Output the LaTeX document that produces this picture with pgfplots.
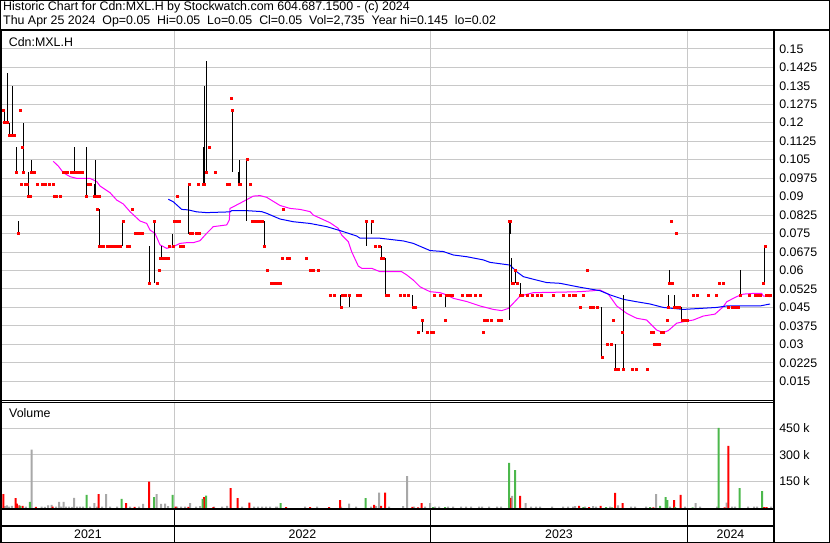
\documentclass[border=0pt]{standalone}
\usepackage{fontspec}
\setmainfont{Liberation Sans}
\usepackage{pgfplots}
\usepackage{pgfplotstable}
\pgfplotsset{compat=1.18}
\definecolor{gridgray}{RGB}{200,200,200}
\definecolor{vgreen}{RGB}{76,184,76}
\definecolor{vgray}{RGB}{168,168,168}
\definecolor{vred}{RGB}{255,0,0}
\definecolor{mama}{RGB}{255,0,255}
\definecolor{mablue}{RGB}{0,0,255}

% x = trading-session position (year boundaries at 174.7, 430.4, 687.7)
\pgfplotstableread{
x lo hi cl
3 0.125 0.125 0.125
4.5 0.12 0.125 0.12
6 0.12 0.12 0.12
7.3 0.12 0.14 0.12
9.3 0.115 0.12 0.115
10.7 0.115 0.115 0.115
12.3 0.115 0.135 0.115
14 0.115 0.115 0.115
16.3 0.10 0.11 0.10
18.7 0.075 0.08 0.075
20 0.125 0.125 0.125
21.2 0.095 0.095 0.095
22.7 0.11 0.11 0.11
23.5 0.10 0.12 0.10
25 0.095 0.095 0.095
27 0.095 0.095 0.095
28.7 0.09 0.10 0.09
30.3 0.09 0.09 0.09
31.5 0.10 0.105 0.10
33 0.10 0.10 0.10
34.5 0.10 0.10 0.10
37 0.095 0.095 0.095
42 0.095 0.095 0.095
45 0.095 0.095 0.095
49 0.095 0.095 0.095
52.7 0.095 0.095 0.095
54 0.09 0.09 0.09
56 0.09 0.09 0.09
60 0.09 0.09 0.09
63.3 0.10 0.10 0.10
65.7 0.10 0.10 0.10
67.3 0.10 0.10 0.10
70.7 0.10 0.10 0.10
74.3 0.10 0.11 0.10
76.7 0.10 0.10 0.10
79.3 0.10 0.10 0.10
81.7 0.10 0.10 0.10
86.3 0.09 0.11 0.09
88 0.095 0.095 0.095
90 0.095 0.095 0.095
94.3 0.09 0.095 0.09
95.7 0.09 0.105 0.09
97 0.085 0.085 0.085
98.7 0.09 0.09 0.09
99.5 0.07 0.085 0.07
101 0.07 0.07 0.07
102.7 0.07 0.07 0.07
107 0.07 0.07 0.07
109.5 0.07 0.07 0.07
111 0.07 0.07 0.07
114.5 0.07 0.07 0.07
116.5 0.07 0.07 0.07
118.5 0.07 0.07 0.07
120.5 0.07 0.07 0.07
122.7 0.07 0.08 0.08
127 0.07 0.07 0.07
129.5 0.07 0.07 0.07
132.3 0.085 0.085 0.085
135.5 0.075 0.075 0.075
137.5 0.075 0.075 0.075
140 0.075 0.075 0.075
142 0.075 0.075 0.075
149 0.055 0.07 0.055
154.3 0.055 0.08 0.08
156.7 0.055 0.055 0.055
158.7 0.06 0.06 0.06
160 0.065 0.065 0.065
161.3 0.065 0.07 0.065
163.3 0.065 0.065 0.065
165 0.065 0.065 0.065
167.7 0.065 0.065 0.065
168.7 0.07 0.07 0.07
172.7 0.07 0.075 0.07
174 0.08 0.08 0.08
175.7 0.08 0.08 0.08
176.7 0.09 0.09 0.09
179 0.08 0.08 0.08
180.3 0.07 0.07 0.07
182.7 0.07 0.07 0.07
188.7 0.075 0.095 0.095
190 0.075 0.075 0.075
191.7 0.075 0.075 0.075
195.7 0.075 0.075 0.075
197.7 0.095 0.095 0.095
199 0.075 0.075 0.075
203.3 0.095 0.11 0.095
204.5 0.095 0.135 0.095
206.3 0.10 0.145 0.10
209 0.11 0.11 0.11
215 0.10 0.10 0.10
227 0.095 0.095 0.095
229.5 0.095 0.095 0.095
230.7 0.13 0.13 0.13
232 0.10 0.125 0.125
238.7 0.095 0.10 0.095
239.7 0.095 0.105 0.095
246.7 0.08 0.105 0.105
250 0.095 0.095 0.095
252 0.08 0.08 0.08
254 0.08 0.08 0.08
256.5 0.08 0.08 0.08
259 0.08 0.08 0.08
262 0.08 0.08 0.08
264.3 0.07 0.08 0.07
266.7 0.06 0.06 0.06
271 0.055 0.055 0.055
274 0.055 0.055 0.055
277 0.055 0.055 0.055
280 0.055 0.055 0.055
281.7 0.065 0.065 0.065
283.3 0.085 0.085 0.085
287 0.065 0.065 0.065
289 0.065 0.065 0.065
306 0.065 0.065 0.065
310 0.06 0.06 0.06
312.7 0.06 0.06 0.06
317.7 0.06 0.06 0.06
330 0.05 0.05 0.05
334 0.05 0.05 0.05
340.7 0.045 0.05 0.045
342.3 0.05 0.05 0.05
345 0.05 0.05 0.05
349.3 0.045 0.05 0.05
357 0.05 0.05 0.05
360 0.05 0.05 0.05
366.3 0.07 0.08 0.08
371.7 0.075 0.08 0.08
375 0.07 0.07 0.07
378.7 0.07 0.07 0.07
381.3 0.065 0.07 0.065
383 0.065 0.065 0.065
385.7 0.05 0.065 0.05
388 0.05 0.05 0.05
400 0.05 0.05 0.05
404 0.05 0.05 0.05
407.7 0.05 0.05 0.05
412.7 0.045 0.05 0.045
415.5 0.045 0.045 0.045
418.3 0.035 0.035 0.035
422.3 0.035 0.04 0.04
426.7 0.035 0.035 0.035
430.7 0.035 0.035 0.035
432.7 0.035 0.035 0.035
434 0.05 0.05 0.05
440 0.05 0.05 0.05
444.7 0.04 0.04 0.04
445.7 0.045 0.05 0.05
447.3 0.05 0.05 0.05
450 0.05 0.05 0.05
451.7 0.05 0.05 0.05
461.7 0.05 0.05 0.05
466.7 0.05 0.05 0.05
470 0.05 0.05 0.05
475 0.05 0.05 0.05
480 0.05 0.05 0.05
482.7 0.035 0.035 0.035
484 0.04 0.04 0.04
486.7 0.04 0.04 0.04
490.7 0.04 0.04 0.04
497.7 0.04 0.04 0.04
501.3 0.04 0.04 0.04
509.3 0.04 0.08 0.08
510.3 0.075 0.08 0.08
511.7 0.055 0.065 0.055
513.5 0.055 0.055 0.055
515.3 0.055 0.06 0.06
517 0.055 0.055 0.055
520 0.05 0.055 0.05
522 0.05 0.05 0.05
526.7 0.05 0.05 0.05
531.7 0.05 0.05 0.05
536.7 0.05 0.05 0.05
541 0.05 0.05 0.05
552.7 0.05 0.05 0.05
563.3 0.05 0.05 0.05
569.3 0.05 0.05 0.05
572.7 0.05 0.05 0.05
575 0.05 0.05 0.05
580 0.045 0.045 0.045
583.3 0.05 0.05 0.05
586.7 0.06 0.06 0.06
590 0.045 0.045 0.045
593.3 0.045 0.045 0.045
596.7 0.045 0.045 0.045
601.7 0.025 0.045 0.025
606.7 0.03 0.03 0.03
610.7 0.03 0.03 0.03
612.7 0.04 0.04 0.04
615 0.02 0.03 0.02
616.5 0.02 0.02 0.02
618.5 0.02 0.02 0.02
622.3 0.035 0.035 0.035
623.3 0.02 0.05 0.02
631.7 0.02 0.02 0.02
636 0.02 0.02 0.02
646.7 0.02 0.02 0.02
651 0.035 0.035 0.035
652.7 0.035 0.035 0.035
654.3 0.03 0.03 0.03
656.3 0.03 0.03 0.03
659 0.03 0.03 0.03
660.7 0.035 0.035 0.035
662.7 0.035 0.035 0.035
666.7 0.04 0.04 0.04
668 0.045 0.05 0.045
669.3 0.055 0.06 0.055
670.7 0.08 0.08 0.08
672 0.055 0.055 0.055
674.3 0.045 0.05 0.045
675.7 0.075 0.075 0.075
677 0.045 0.045 0.045
679.3 0.045 0.045 0.045
681.7 0.04 0.045 0.04
684.7 0.04 0.04 0.04
686.7 0.04 0.04 0.04
693.3 0.05 0.05 0.05
696.7 0.05 0.05 0.05
707.7 0.05 0.05 0.05
716 0.05 0.05 0.05
719.3 0.055 0.055 0.055
722.7 0.055 0.055 0.055
728.3 0.045 0.045 0.045
731.7 0.045 0.045 0.045
735 0.045 0.045 0.045
738.3 0.045 0.045 0.045
740.3 0.05 0.06 0.05
748.7 0.05 0.05 0.05
755 0.05 0.05 0.05
758.3 0.05 0.05 0.05
760 0.05 0.05 0.05
763 0.055 0.055 0.055
764.7 0.055 0.07 0.07
766.5 0.05 0.05 0.05
768.5 0.05 0.05 0.05
770.5 0.05 0.05 0.05
}\prices

\pgfplotstableread{
x v
3.3 79000
15.7 56000
17 25000
19.5 15000
22.7 12000
36 6000
52.7 8000
98.7 79000
126 28000
134.7 6000
149 149000
175.7 8000
188.3 6000
204 62000
213.3 5000
230.7 113000
237.7 56000
249.3 30000
286 5000
310 5000
329 5000
340 45000
374 17000
381 12000
385 87000
412.3 6000
418 3000
421.7 28000
510.3 57000
520 68000
579 12000
589 5000
600.7 12000
615 85000
622.7 28000
653.3 3000
674 45000
680.7 74000
724.7 3000
728.3 351000
764 5000
766.7 5000
}\volred

\pgfplotstableread{
x v
20.3 10000
30 34000
86.7 74000
121.7 51000
154 62000
172.7 74000
202.7 51000
206 70000
280.7 28000
365.7 56000
433 5000
445 5000
509 255000
515 215000
583.3 5000
606 5000
612 3000
650 5000
660 12000
665.7 62000
667.3 45000
675 5000
692.7 3000
718.7 453000
739.7 113000
762 96000
}\volgreen

\pgfplotstableread{
x v
5 10000
7 15000
9 8000
12 12000
26 8000
31.7 330000
41.7 8000
45 6000
48 15000
51.7 18000
56 8000
59 34000
61 8000
63.7 34000
66 8000
69 8000
72 6000
74 57000
77 8000
80 8000
83 8000
90 8000
94.3 28000
97 8000
102 8000
106 79000
110 8000
117 8000
130 8000
139 8000
143 23000
156.7 79000
161 23000
165 25000
168 10000
177 8000
181 8000
185 8000
190 28000
196 8000
200 10000
214 8000
222 8000
227 12000
242 8000
254 8000
258 8000
262 8000
266 8000
270 8000
276 8000
277 8000
305 8000
317 8000
341 8000
349 25000
356 8000
371 8000
376 10000
379 87000
389 8000
403 10000
407 181000
414 8000
425 8000
430 28000
435 8000
439 8000
448 8000
453 8000
461 8000
466 8000
471 8000
479 8000
482 8000
489 8000
497 8000
501 8000
512 68000
525.7 28000
531 8000
536 8000
540 8000
552 8000
563 8000
568 8000
573 8000
575 10000
585 8000
593 10000
596 8000
610 8000
618 15000
631 8000
635 8000
646 8000
656 79000
670 8000
685 8000
695.7 28000
700 8000
717 8000
726.7 30000
732 8000
735 8000
748 8000
754 8000
757 8000
771 8000
}\volgray

\begin{document}
\fontsize{12.4}{14}\selectfont
\begin{tikzpicture}[x=1pt,y=1pt]
\useasboundingbox (0pt,0pt) rectangle (830pt,543pt);

% ---------- price panel ----------
\begin{axis}[
  at={(2pt,142pt)}, anchor=south west,
  width=771pt, height=370pt, scale only axis,
  xmin=2, xmax=773, ymin=0.00702, ymax=0.15723,
  axis line style={draw=none},
  major tick length=0pt,
  xtick={174.7,430.4,687.7}, xticklabels={,,},
  ytick={0.015,0.0225,0.03,0.0375,0.045,0.0525,0.06,0.0675,0.075,0.0825,0.09,0.0975,0.105,0.1125,0.12,0.1275,0.135,0.1425,0.15},
  yticklabels={0.015,0.0225,0.03,0.0375,0.045,0.0525,0.06,0.0675,0.075,0.0825,0.09,0.0975,0.105,0.1125,0.12,0.1275,0.135,0.1425,0.15},
  yticklabel pos=right,
  yticklabel style={anchor=west, xshift=2pt, font=\fontsize{12.4}{14}\selectfont},
  xmajorgrids, ymajorgrids,
  grid style={gridgray, line width=1pt},
]
\addplot[mama, line width=1pt] coordinates {
(53.3,0.1043) (58.3,0.1024) (63.3,0.0997) (70,0.0981) (76.7,0.0974) (90,0.0974) (96.7,0.0961) (100,0.0943) (110,0.0916) (116.7,0.0886) (123.3,0.0870) (130,0.0839) (140,0.0801) (146.7,0.0791) (150,0.0764) (155,0.0751) (160,0.0704) (166.7,0.0690) (173.3,0.0697) (180,0.0710) (186.7,0.0713) (193.3,0.0713) (200,0.0721) (206.7,0.0751) (213.3,0.0778) (226.7,0.0785) (229.3,0.0805) (230,0.0852) (240,0.0873) (253.3,0.0902) (260,0.0904) (266.7,0.0897) (280,0.0864) (290,0.0852) (300,0.0848) (310,0.0839) (313.3,0.0825) (330,0.0794) (338.3,0.0771) (341.7,0.0744) (348.3,0.0717) (351.7,0.0676) (358.3,0.0618) (361.7,0.0609) (371.7,0.0609) (380,0.0595) (401.7,0.0595) (406.7,0.0582) (413.3,0.0561) (420,0.0534) (430,0.0514) (440,0.0510) (446.7,0.0501) (453.3,0.0487) (466.7,0.0474) (480,0.0456) (493.3,0.0442) (501.7,0.0437) (508.3,0.0446) (513.3,0.0467) (520,0.0496) (533.3,0.0510) (560,0.0512) (580,0.0514) (593.3,0.0518) (600,0.0521) (608.3,0.0504) (616.7,0.0456) (626.7,0.0426) (636.7,0.0406) (646.7,0.0399) (656.7,0.0358) (663.3,0.0348) (668.3,0.0356) (676.7,0.0386) (683.3,0.0392) (693.3,0.0399) (703.3,0.0415) (715,0.0423) (723.3,0.0453) (726.7,0.0473) (736.7,0.0494) (743.3,0.0504) (753.3,0.0507) (761.7,0.0507) (763.3,0.0496) (770,0.0494)};
\addplot[mablue, line width=1pt] coordinates {
(168.3,0.0889) (173.3,0.0879) (181.7,0.0848) (188.3,0.0846) (196.7,0.0838) (206.7,0.0835) (230,0.0838) (231.7,0.0843) (246.7,0.0843) (261.7,0.0839) (266.7,0.0832) (280,0.0809) (293.3,0.0798) (310,0.0791) (326.7,0.0778) (340,0.0762) (356.7,0.0740) (360,0.0731) (380,0.0731) (403.3,0.0720) (413.3,0.0710) (430,0.0681) (443.3,0.0677) (453.3,0.0663) (466.7,0.0656) (483.3,0.0643) (490,0.0633) (510,0.0622) (516.7,0.0595) (523.3,0.0575) (536.7,0.0561) (546.7,0.0551) (560,0.0548) (580,0.0532) (600,0.0518) (610,0.0501) (623.3,0.0483) (636.7,0.0473) (650,0.0464) (663.3,0.0450) (683.3,0.0442) (716.7,0.0450) (726.7,0.0456) (760,0.0456) (770,0.0464)};
\addplot[draw=none, mark=none, error bars/.cd, y dir=both, y explicit, error mark=none,
  error bar style={draw=black, line width=1pt}]
  table[x=x, y expr=(\thisrow{lo}+\thisrow{hi})/2, y error expr=(\thisrow{hi}-\thisrow{lo})/2] {\prices};
\addplot[vred, only marks, mark=square*, mark size=1pt, mark options={draw=none, fill=vred}]
  table[x=x, y=cl] {\prices};
\end{axis}

% ---------- volume panel ----------
\begin{axis}[
  at={(2pt,33.5pt)}, anchor=south west,
  width=771pt, height=107pt, scale only axis,
  xmin=2, xmax=773, ymin=-8490, ymax=597170,
  axis line style={draw=none},
  major tick length=0pt,
  xtick={174.7,430.4,687.7}, xticklabels={,,},
  extra x ticks={88,302.5,559,730.5},
  extra x tick labels={2021,2022,2023,2024},
  extra x tick style={grid=none},
  xticklabel style={anchor=base, yshift=-29.5pt, font=\fontsize{12.4}{14}\selectfont},
  ytick={150000,300000,450000},
  yticklabels={150 k,300 k,450 k},
  yticklabel pos=right,
  yticklabel style={anchor=west, xshift=2pt, font=\fontsize{12.4}{14}\selectfont},
  xmajorgrids, ymajorgrids,
  grid style={gridgray, line width=1pt},
  scaled y ticks=false,
]
\addplot[ybar, bar width=2, bar shift=0pt, fill=vgray, draw=none] table[x=x,y=v] {\volgray};
\addplot[ybar, bar width=2, bar shift=0pt, fill=vred, draw=none] table[x=x,y=v] {\volred};
\addplot[ybar, bar width=2, bar shift=0pt, fill=vgreen, draw=none] table[x=x,y=v] {\volgreen};
\end{axis}

% ---------- frame and labels ----------
\draw[black, line width=1pt] (0.5pt,0.5pt) rectangle (829.5pt,542.5pt);
\draw[black, line width=2pt] (0pt,513pt) -- (830pt,513pt);
\draw[black, line width=2pt] (1pt,0pt) -- (1pt,513pt);
\draw[black, line width=2pt] (774pt,0pt) -- (774pt,513pt);
\draw[black, line width=1pt] (0pt,142.3pt) -- (774pt,142.3pt);
\draw[black, line width=1pt] (0pt,140.7pt) -- (774pt,140.7pt);
\draw[black, line width=2pt] (0pt,33.5pt) -- (774pt,33.5pt);
\draw[black, line width=2pt] (0pt,16.5pt) -- (774pt,16.5pt);
\foreach \xx in {174.7,430.4,687.7} \draw[black, line width=1pt] (\xx pt,0pt) -- (\xx pt,33.5pt);

\node[anchor=base west, inner sep=0pt] at (3pt,532.3pt) {Historic Chart for Cdn:MXL.H by Stockwatch.com 604.687.1500 - (c) 2024};
\node[anchor=base west, inner sep=0pt] at (3pt,518pt) {Thu Apr 25 2024~~Op=0.05~~Hi=0.05~~Lo=0.05~~Cl=0.05~~Vol=2,735~~Year hi=0.145~~lo=0.02};
\node[anchor=base west, inner sep=0pt] at (8.7pt,496.3pt) {Cdn:MXL.H};
\node[anchor=base west, inner sep=0pt] at (9pt,125pt) {Volume};
\end{tikzpicture}
\end{document}
